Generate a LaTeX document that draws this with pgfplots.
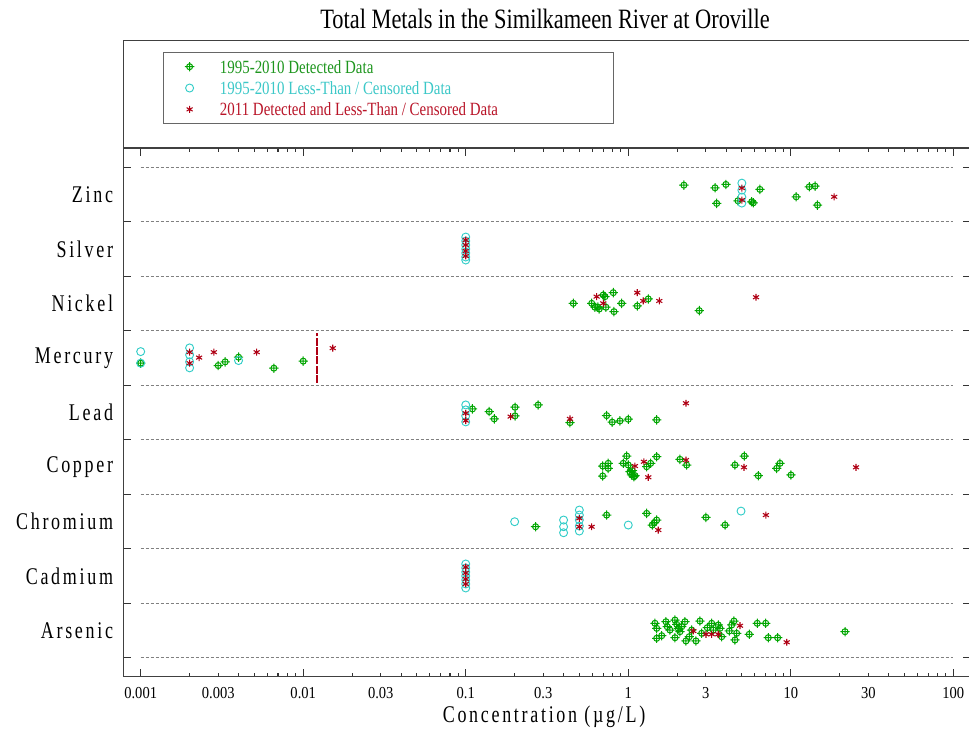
\documentclass[border=0pt]{standalone}
\usepackage{pgfplots}
\pgfplotsset{compat=1.18}
\usepackage{pgfplotstable}
\usepackage{graphicx}
\usepackage{fontspec}
\setmainfont{Liberation Serif}
\newfontfamily\lsfont[LetterSpace=15]{Liberation Serif}

\definecolor{mgreen}{RGB}{0,165,0}
\definecolor{mcyan}{RGB}{50,205,200}
\definecolor{mred}{RGB}{175,0,20}
\definecolor{tgreen}{RGB}{30,150,30}
\definecolor{tcyan}{RGB}{60,200,200}
\definecolor{tred}{RGB}{185,20,40}

\pgfdeclareplotmark{cplus}{%
 \pgfpathcircle{\pgfpointorigin}{0.65\pgfplotmarksize}%
 \pgfpathmoveto{\pgfqpoint{-\pgfplotmarksize}{0pt}}\pgfpathlineto{\pgfqpoint{\pgfplotmarksize}{0pt}}%
 \pgfpathmoveto{\pgfqpoint{0pt}{-\pgfplotmarksize}}\pgfpathlineto{\pgfqpoint{0pt}{\pgfplotmarksize}}%
 \pgfusepathqstroke}

\newcommand{\ylab}[1]{\scalebox{1}[1.33]{\lsfont\fontsize{13.5}{16}\selectfont #1}}
\newcommand{\xl}[1]{\scalebox{1}[1.15]{#1}}
\newcommand{\legtext}[2]{\makebox[295.5pt][l]{\rule[-2pt]{0pt}{13pt}\textcolor{#1}{\scalebox{1}[1.25]{#2}}}}

\pgfplotstableread{
x y
2.20 9.168
3.42 9.119
3.99 9.181
4.73 8.881
3.50 8.833
5.75 8.863
5.88 8.844
6.46 9.09
10.8 8.954
13.0 9.137
14.1 9.150
14.6 8.802
0.459 7.0
0.596 7.0
0.624 6.929
0.65 6.93
0.663 6.897
0.702 7.154
0.719 7.123
0.729 6.929
0.809 7.196
0.817 6.848
0.911 7.0
1.136 6.952
1.328 7.081
2.735 6.866
0.001 5.903
0.0030 5.859
0.00331 5.927
0.0040 6.013
0.0066 5.811
0.01 5.940
0.110 5.064
0.1395 5.015
0.1498 4.881
0.201 5.095
0.201 4.936
0.279 5.137
0.438 4.813
0.736 4.941
0.797 4.821
0.889 4.844
1.0 4.875
1.496 4.863
0.696 4.016
0.753 4.066
0.753 3.974
0.696 3.833
0.978 4.2
0.932 4.066
1.0 4.035
1.024 3.912
1.049 3.852
1.084 3.82
1.06 3.93
1.10 3.84
1.298 4.004
1.373 4.066
1.496 4.187
2.08 4.139
2.287 4.035
4.536 4.035
5.173 4.2
6.31 3.839
8.19 3.974
8.58 4.066
10.03 3.852
0.269 2.903
0.736 3.117
1.298 3.148
1.405 2.934
1.496 3.026
1.445 2.976
3.006 3.075
3.94 2.934
1.46 1.132
1.496 1.04
1.496 0.857
1.606 0.905
1.706 1.161
1.738 1.07
1.806 1.009
1.939 1.192
1.986 1.114
1.939 0.868
2.031 1.04
2.08 0.978
2.132 1.07
2.233 1.161
2.265 0.808
2.373 0.886
2.455 1.009
2.61 0.808
2.762 1.174
2.83 0.949
3.063 1.051
3.261 1.132
3.335 1.009
3.58 1.101
3.667 1.04
3.757 0.886
4.183 0.991
4.328 1.101
4.472 1.174
4.646 0.949
4.536 0.826
5.554 0.93
6.22 1.132
7.01 1.132
7.27 0.868
8.30 0.868
21.56 0.978
}\greendata

\pgfplotstableread{
x y
5.0 9.205
5.0 9.077
5.0 8.949
5.0 8.839
0.1 8.216
0.1 8.143
0.1 8.07
0.1 7.996
0.1 7.923
0.1 7.85
0.1 7.795
0.001 6.115
0.001 5.903
0.002 6.183
0.002 6.055
0.002 5.927
0.002 5.817
0.0040 5.951
0.1 5.137
0.1 5.046
0.1 4.936
0.1 4.826
0.2 2.995
0.4 3.026
0.4 2.903
0.4 2.793
0.5 3.209
0.5 3.117
0.5 3.026
0.5 2.916
0.5 2.824
1.0 2.934
4.94 3.19
0.1 2.22
0.1 2.147
0.1 2.073
0.1 2.0
0.1 1.927
0.1 1.853
0.1 1.78
}\cyandata

\pgfplotstableread{
x y
5.0 9.114
5.0 8.894
18.5 8.954
0.1 8.161
0.1 8.07
0.1 7.96
0.1 7.868
0.639 7.123
0.702 7.0
1.136 7.196
1.237 7.044
1.552 7.044
6.11 7.112
0.002 6.104
0.002 5.903
0.00229 6.005
0.00282 6.104
0.00517 6.104
0.0152 6.178
0.1 4.985
0.1 4.85
0.189 4.923
0.438 4.881
2.265 5.168
1.099 4.016
1.249 4.095
1.328 3.81
2.265 4.126
5.152 3.993
25.2 3.993
0.5 3.057
0.5 2.903
0.595 2.903
1.53 2.842
7.03 3.117
0.1 2.165
0.1 2.055
0.1 1.945
0.1 1.853
2.512 0.991
3.007 0.93
3.261 0.93
3.58 0.93
4.87 1.088
9.44 0.784
}\reddata

\begin{document}
\begin{tikzpicture}
\useasboundingbox (0pt,0pt) rectangle (726.75pt,546.75pt);
\node at (408.75pt,532.5pt) {\fontsize{16.8}{20}\selectfont\scalebox{1}[1.25]{Total Metals in the Similkameen River at Oroville}};
\draw[line width=1pt,black!75] (92.5pt,435.75pt) -- (92.5pt,516.5pt) -- (740pt,516.5pt);
\begin{axis}[
  at={(92.5pt,39.2pt)}, anchor=south west,
  scale only axis, width=635.75pt, height=396.5pt,
  xmode=log, xmin=0.000782, xmax=128.5,
  ymin=0.152, ymax=9.848,
  axis line style={line width=1pt, black!75},
  tick style={line width=0.8pt, black!80},
  tick align=inside,
  major tick length=6pt, minor tick length=3pt,
  xtick={0.001,0.01,0.1,1,10,100},
  xticklabels={\xl{0.001},\xl{0.01},\xl{0.1},\xl{1},\xl{10},\xl{100}},
  minor xtick={0.002,0.003,0.004,0.005,0.006,0.007,0.008,0.009,0.02,0.03,0.04,0.05,0.06,0.07,0.08,0.09,0.2,0.3,0.4,0.5,0.6,0.7,0.8,0.9,2,3,4,5,6,7,8,9,20,30,40,50,60,70,80,90},
  extra x ticks={0.003,0.03,0.3,3,30},
  extra x tick labels={\xl{0.003},\xl{0.03},\xl{0.3},\xl{3},\xl{30}},
  extra x tick style={major tick length=3pt},
  xticklabel style={font=\fontsize{10.9}{12}\selectfont, inner sep=0pt, anchor=north, yshift=-7.5pt},
  /pgf/number format/assume math mode=true,
  ytick={0.5,1.5,...,9.5},
  yticklabels={},
  extra y ticks={1,2,3,4,5,6,7,8,9},
  extra y tick labels={\ylab{Arsenic},\ylab{Cadmium},\ylab{Chromium},\ylab{Copper},\ylab{Lead},\ylab{Mercury},\ylab{Nickel},\ylab{Silver},\ylab{Zinc}},
  extra y tick style={major tick length=0pt, tick style={draw=none}},
  yticklabel style={inner sep=0pt, anchor=east, xshift=-7.5pt},
  xlabel={\scalebox{1}[1.33]{\lsfont\fontsize{13.5}{16}\selectfont Concentration (µg/L)}},
  xlabel style={at={(axis description cs:0.4963,0)}, anchor=center, yshift=-30.2pt},
  legend style={at={(axis description cs:0.0465,1.182)}, anchor=north west,
    draw=black!60, line width=0.8pt, fill=white,
    inner xsep=0pt, inner ysep=4.5pt, row sep=3.5pt,
    font=\fontsize{11.2}{13}\selectfont,
    nodes={inner sep=0pt}},
  legend cell align=left,
  legend image code/.code={\path[draw=none,fill=none] (-19.75pt,-1pt) rectangle (22.75pt,1pt); \draw[#1] plot coordinates {(0pt,0pt)};},
]
\addplot[gray, line width=0.75pt, dash pattern=on 2.25pt off 1.5pt, forget plot] coordinates {(0.001,0.5)(100,0.5)};
\addplot[gray, line width=0.75pt, dash pattern=on 2.25pt off 1.5pt, forget plot] coordinates {(0.001,1.5)(100,1.5)};
\addplot[gray, line width=0.75pt, dash pattern=on 2.25pt off 1.5pt, forget plot] coordinates {(0.001,2.5)(100,2.5)};
\addplot[gray, line width=0.75pt, dash pattern=on 2.25pt off 1.5pt, forget plot] coordinates {(0.001,3.5)(100,3.5)};
\addplot[gray, line width=0.75pt, dash pattern=on 2.25pt off 1.5pt, forget plot] coordinates {(0.001,4.5)(100,4.5)};
\addplot[gray, line width=0.75pt, dash pattern=on 2.25pt off 1.5pt, forget plot] coordinates {(0.001,5.5)(100,5.5)};
\addplot[gray, line width=0.75pt, dash pattern=on 2.25pt off 1.5pt, forget plot] coordinates {(0.001,6.5)(100,6.5)};
\addplot[gray, line width=0.75pt, dash pattern=on 2.25pt off 1.5pt, forget plot] coordinates {(0.001,7.5)(100,7.5)};
\addplot[gray, line width=0.75pt, dash pattern=on 2.25pt off 1.5pt, forget plot] coordinates {(0.001,8.5)(100,8.5)};
\addplot[gray, line width=0.75pt, dash pattern=on 2.25pt off 1.5pt, forget plot] coordinates {(0.001,9.5)(100,9.5)};

\addplot[only marks, mark=cplus, mark size=3.5pt, mgreen, mark options={line width=0.75pt}] table[x=x,y=y] {\greendata};
\addlegendentry{\legtext{tgreen}{1995-2010 Detected Data}}
\addplot[only marks, mark=o, mark size=3pt, mcyan, mark options={line width=0.7pt}] table[x=x,y=y] {\cyandata};
\addlegendentry{\legtext{tcyan}{1995-2010 Less-Than / Censored Data}}
\addplot[only marks, mark=asterisk, mark size=2.6pt, mred, mark options={line width=0.8pt}] table[x=x,y=y] {\reddata};
\addlegendentry{\legtext{tred}{2011 Detected and Less-Than / Censored Data}}

\addplot[mred, line width=1.5pt, dash pattern=on 6pt off 1pt, forget plot] coordinates {(0.0121,5.54)(0.0121,6.46)};
\end{axis}
\end{tikzpicture}
\end{document}
